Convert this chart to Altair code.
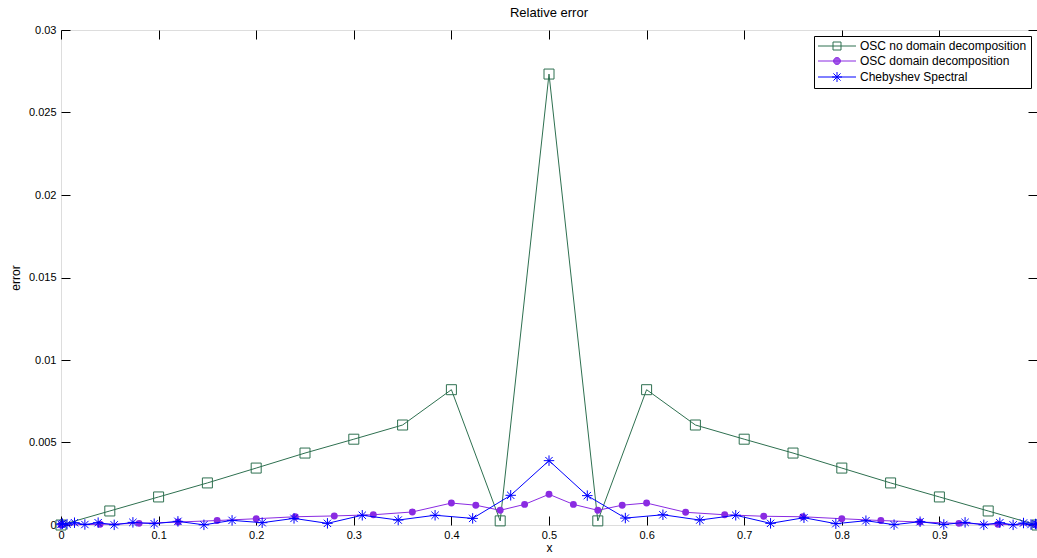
import math
import altair as alt
import pandas as pd

# ---------------- data ----------------
series_names = ["OSC no domain decomposition", "OSC domain decomposition", "Chebyshev Spectral"]
series_colors = ["#2e7050", "#8a2be2", "#0000ff"]

osc_x = [0.0, 0.05, 0.1, 0.15, 0.2, 0.25, 0.3, 0.35, 0.4, 0.45, 0.5,
         0.55, 0.6, 0.65, 0.7, 0.75, 0.8, 0.85, 0.9, 0.95, 1.0]
osc_y = [0.0, 0.00085, 0.0017, 0.00255, 0.00345, 0.00436, 0.0052, 0.00606, 0.0082, 0.00025, 0.02733,
         0.00025, 0.0082, 0.00606, 0.0052, 0.00436, 0.00345, 0.00255, 0.0017, 0.00085, 0.0]

dd_x = [0.0, 0.04, 0.08, 0.12, 0.16, 0.2, 0.24, 0.28, 0.32, 0.36,
        0.4, 0.425, 0.45, 0.475, 0.5, 0.525, 0.55, 0.575, 0.6,
        0.64, 0.68, 0.72, 0.76, 0.8, 0.84, 0.88, 0.92, 0.96, 1.0]
dd_y = [0.0, 0.00004, 0.0001, 0.00018, 0.00027, 0.00038, 0.0005, 0.00055, 0.00062, 0.00079,
        0.00133, 0.0012, 0.00089, 0.00125, 0.00186, 0.00125, 0.00089, 0.0012, 0.00133,
        0.00077, 0.00062, 0.00053, 0.0005, 0.00038, 0.00027, 0.00018, 0.0001, 0.00004, 0.0]

cheb_x = [0.0, 0.00154, 0.00616, 0.01382, 0.02447, 0.03806, 0.0545, 0.07368, 0.09549, 0.1198,
          0.14645, 0.17528, 0.20611, 0.23875, 0.273, 0.30866, 0.34549, 0.38328, 0.42178, 0.46077,
          0.5, 0.53923, 0.57822, 0.61672, 0.65451, 0.69134, 0.727, 0.76125, 0.79389, 0.82472,
          0.85355, 0.8802, 0.90451, 0.92632, 0.9455, 0.96194, 0.97553, 0.98618, 0.99384, 0.99846, 1.0]
cheb_y = [0.00005, 0.00008, 0.00005, 0.00014, 0.00003, 0.00014, 0.00001, 0.00016, 0.00008, 0.00022,
          0.00001, 0.00028, 0.00014, 0.0004, 0.0001, 0.00059, 0.0003, 0.00059, 0.0004, 0.0018,
          0.0039, 0.00178, 0.00042, 0.00062, 0.0003, 0.00059, 0.0001, 0.00044, 0.00008, 0.00026,
          0.00002, 0.0002, 0.00003, 0.00016, 0.00001, 0.00014, 0.00001, 0.00012, 0.00003, 0.00006, 0.00005]

x_ticks = [0, 0.1, 0.2, 0.3, 0.4, 0.5, 0.6, 0.7, 0.8, 0.9]
x_ticks_all = x_ticks + [1.0]
y_ticks = [0, 0.005, 0.01, 0.015, 0.02, 0.025, 0.03]

frames = []
for name, xs, ys in zip(series_names, [osc_x, dd_x, cheb_x], [osc_y, dd_y, cheb_y]):
    frames.append(pd.DataFrame({"x": xs, "y": ys, "series": name}))
df = pd.concat(frames, ignore_index=True)

# ---------------- styling ----------------
FONT = "Liberation Sans"
TICK = 9
X_SCALE = alt.Scale(domain=[0, 1], nice=False, zero=False)
Y_SCALE = alt.Scale(domain=[0, 0.03], nice=False, zero=False)

common_axis = dict(grid=False, domain=False, tickColor="black", tickWidth=1,
                   tickSize=TICK, offset=-TICK)

x_bottom = alt.Axis(title="x", values=x_ticks, format="~g", labelFlush=False, labelOverlap=False,
                    labelPadding=4, labelFont=FONT, labelFontSize=11, labelColor="black",
                    titleFont=FONT, titleFontSize=12, titleFontWeight="normal", titleColor="black",
                    titlePadding=2, orient="bottom", **common_axis)
y_left = alt.Axis(title="error", values=y_ticks, format="~g", labelOverlap=False,
                  labelPadding=5, labelFont=FONT, labelFontSize=11, labelColor="black",
                  titleFont=FONT, titleFontSize=12, titleFontWeight="normal", titleColor="black",
                  titlePadding=6, orient="left", **common_axis)
x_top = alt.Axis(title=None, values=x_ticks_all, labels=False, orient="top", **common_axis)
y_right = alt.Axis(title=None, values=y_ticks, labels=False, orient="right", **common_axis)

STAR = "M-1,0L1,0M0,-1L0,1M-0.7,-0.7L0.7,0.7M-0.7,0.7L0.7,-0.7"


def fmt(v):
    return f"{v:.4f}"


def disk(r, step):
    # filled disk drawn with horizontal stroke segments + polygon outline (marker shape only)
    parts = []
    n = int(r / step)
    for k in range(-n, n + 1):
        yy = k * step
        hw = math.sqrt(max(r * r - yy * yy, 0))
        parts.append(f"M{fmt(-hw)},{fmt(yy)}L{fmt(hw)},{fmt(yy)}")
    pts = [(r * math.cos(2 * math.pi * i / 16), r * math.sin(2 * math.pi * i / 16)) for i in range(16)]
    for i in range(16):
        a, b = pts[i], pts[(i + 1) % 16]
        parts.append(f"M{fmt(a[0])},{fmt(a[1])}L{fmt(b[0])},{fmt(b[1])}")
    return "".join(parts)


# legend symbols: size 100 -> 1 path unit = 5 px
LEG_SIZE = 100
LINE = "M-3.8,0L3.8,0"
s = 0.8
LEG_SQUARE = LINE + f"M{-s},{-s}L{s},{-s}M{s},{-s}L{s},{s}M{s},{s}L{-s},{s}M{-s},{s}L{-s},{-s}"
LEG_CIRCLE = LINE + disk(0.68, 0.19)
LEG_STAR = LINE + "M-1,0L1,0M0,-1L0,1M-0.72,-0.72L0.72,0.72M-0.72,0.72L0.72,-0.72"
legend_shapes = [LEG_SQUARE, LEG_CIRCLE, LEG_STAR]

base = alt.Chart(df)


def sel(i):
    return base.transform_filter(alt.datum.series == series_names[i])


green_line = sel(0).mark_line(color=series_colors[0], strokeWidth=1).encode(
    x=alt.X("x:Q", scale=X_SCALE, axis=x_top),
    y=alt.Y("y:Q", scale=Y_SCALE, axis=y_right),
)
green_pts = sel(0).mark_point(shape="square", filled=False, size=100, color=series_colors[0],
                              strokeWidth=1, opacity=1).encode(
    x=alt.X("x:Q", scale=X_SCALE, axis=x_bottom),
    y=alt.Y("y:Q", scale=Y_SCALE, axis=y_left),
)
purple_line = sel(1).mark_line(color=series_colors[1], strokeWidth=1).encode(
    x=alt.X("x:Q", scale=X_SCALE, axis=None),
    y=alt.Y("y:Q", scale=Y_SCALE, axis=None),
)
purple_pts = sel(1).mark_point(shape="circle", filled=True, size=48, color=series_colors[1],
                               opacity=1).encode(
    x=alt.X("x:Q", scale=X_SCALE, axis=None),
    y=alt.Y("y:Q", scale=Y_SCALE, axis=None),
)
blue_line = sel(2).mark_line(color=series_colors[2], strokeWidth=1).encode(
    x=alt.X("x:Q", scale=X_SCALE, axis=None),
    y=alt.Y("y:Q", scale=Y_SCALE, axis=None),
)
blue_pts = sel(2).mark_point(shape=STAR, filled=False, size=110, color=series_colors[2],
                             strokeWidth=1, opacity=1).encode(
    x=alt.X("x:Q", scale=X_SCALE, axis=None),
    y=alt.Y("y:Q", scale=Y_SCALE, axis=None),
)

leg = alt.Legend(title=None, orient="top-right", offset=6, strokeColor="black", fillColor="white",
                 padding=4, cornerRadius=0, labelFont=FONT, labelFontSize=12, labelColor="black",
                 labelLimit=400, symbolSize=LEG_SIZE, symbolStrokeWidth=1, rowPadding=3,
                 symbolOffset=13, labelOffset=17)

legend_layer = base.transform_filter("false").mark_point(filled=False, size=LEG_SIZE, strokeWidth=1,
                                                         opacity=1).encode(
    x=alt.X("x:Q", scale=X_SCALE, axis=None),
    y=alt.Y("y:Q", scale=Y_SCALE, axis=None),
    color=alt.Color("series:N", scale=alt.Scale(domain=series_names, range=series_colors), legend=leg),
    shape=alt.Shape("series:N", scale=alt.Scale(domain=series_names, range=legend_shapes), legend=leg),
)

chart = alt.layer(
    green_line, green_pts, purple_line, purple_pts, blue_line, blue_pts, legend_layer
).resolve_axis(
    x="independent", y="independent"
).properties(
    width=976,
    height=495,
    title=alt.TitleParams("Relative error", font=FONT, fontSize=13, fontWeight="normal",
                          color="black", offset=4, anchor="middle"),
    autosize=alt.AutoSizeParams(type="none"),
    padding={"left": 61, "top": 30, "right": 0, "bottom": 33},
).configure_view(
    stroke="black", strokeWidth=1
).configure(
    font=FONT, background="white"
)

chart.save("out.html", embed_options={"renderer": "svg", "actions": False})
